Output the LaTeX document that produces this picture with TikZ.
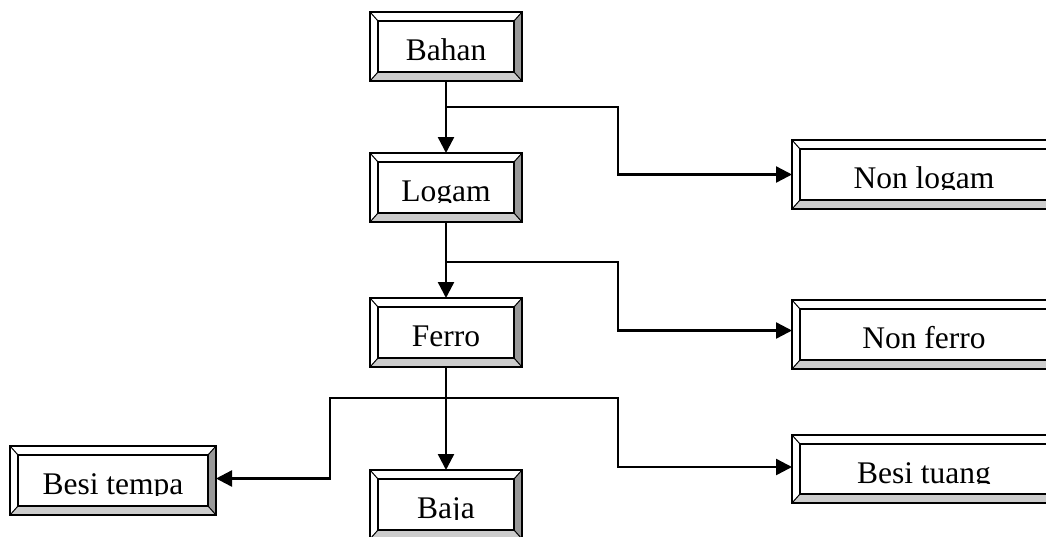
\documentclass[tikz,border=0pt]{standalone}
\usepackage{fontspec}
\setmainfont{Liberation Serif}
\usepackage{tikz}
\usetikzlibrary{calc,arrows.meta}

\definecolor{bevelright}{HTML}{999999}
\definecolor{bevelbottom}{HTML}{CCCCCC}

\tikzset{
  box/.style={minimum height=69pt, inner sep=0pt, outer sep=0pt},
  boxtext/.style={anchor=base, inner sep=0pt, font=\fontsize{31.5}{36}\selectfont},
  arr/.style={line width=2.4pt, -{Triangle[length=16pt,width=16pt]}},
  line/.style={line width=2.4pt}
}

% raised frame round a named box, with its text cut at the baseline
\newcommand{\bevelbox}[2]{%
  \coordinate (#1-nw) at ($(#1.north west)+(8,9)$);
  \coordinate (#1-ne) at ($(#1.north east)+(-8,9)$);
  \coordinate (#1-sw) at ($(#1.south west)+(8,-9)$);
  \coordinate (#1-se) at ($(#1.south east)+(-8,-9)$);
  \fill[white] (#1.north west) -- (#1.north east) -- (#1-ne) -- (#1-nw) -- cycle;
  \fill[white] (#1.north west) -- (#1-nw) -- (#1-sw) -- (#1.south west) -- cycle;
  \fill[bevelright] (#1.north east) -- (#1-ne) -- (#1-se) -- (#1.south east) -- cycle;
  \fill[bevelbottom] (#1.south west) -- (#1-sw) -- (#1-se) -- (#1.south east) -- cycle;
  \draw[line width=1pt] (#1.north west) -- (#1-nw) (#1.north east) -- (#1-ne)
    (#1.south west) -- (#1-sw) (#1.south east) -- (#1-se);
  \draw[line width=2.4pt] (#1.north west) rectangle (#1.south east);
  \draw[line width=2pt] (#1-nw) rectangle (#1-se);
  \begin{scope}
    \clip (#1-nw) rectangle ($(#1.east)+(0,14.5)$);
    \node[boxtext] (#1-text) at ($(#1.center)+(0,14)$) {#2};
  \end{scope}
}

\begin{document}
\begin{tikzpicture}[x=1pt,y=-1pt]
\useasboundingbox (0,0) rectangle (1046,536);

\node[box, minimum width=152pt] (bahan) at (446,46.5) {};
\node[box, minimum width=152pt] (logam) at (446,187.5) {};
\node[box, minimum width=152pt] (ferro) at (446,332.5) {};
\node[box, minimum width=152pt] (baja) at (446,504.5) {};
\node[box, minimum width=264pt] (nonlogam) at (924,174.5) {};
\node[box, minimum width=264pt] (nonferro) at (924,334.5) {};
\node[box, minimum width=264pt, minimum height=68pt] (besituang) at (924,469) {};
\node[box, minimum width=206pt] (besitempa) at (113,480.5) {};

\bevelbox{bahan}{Bahan}
\bevelbox{logam}{Logam}
\bevelbox{ferro}{Ferro}
\bevelbox{baja}{Baja}
\bevelbox{nonlogam}{Non logam}
\bevelbox{nonferro}{Non ferro}
\bevelbox{besituang}{Besi tuang}
\bevelbox{besitempa}{Besi tempa}

% branch points
\coordinate (b1) at ($(bahan.south)+(0,26)$);
\coordinate (l1) at ($(logam.south)+(0,40)$);
\coordinate (f1) at ($(ferro.south)+(0,31)$);

\draw[arr] (bahan) -- (logam);
\draw[arr] (b1) -| ($(nonlogam.west)+(-174,0)$) -- (nonlogam.west);

\draw[arr] (logam) -- (ferro);
\draw[arr] (l1) -| ($(nonferro.west)+(-174,-4)$) -- ($(nonferro.west)+(0,-4)$);

\draw[arr] (ferro) -- (baja);
\draw[arr] (f1) -| ($(besitempa.east)+(114,-2)$) -- ($(besitempa.east)+(0,-2)$);
\draw[arr] (f1) -| ($(besituang.west)+(-174,-2)$) -- ($(besituang.west)+(0,-2)$);

\end{tikzpicture}
\end{document}
